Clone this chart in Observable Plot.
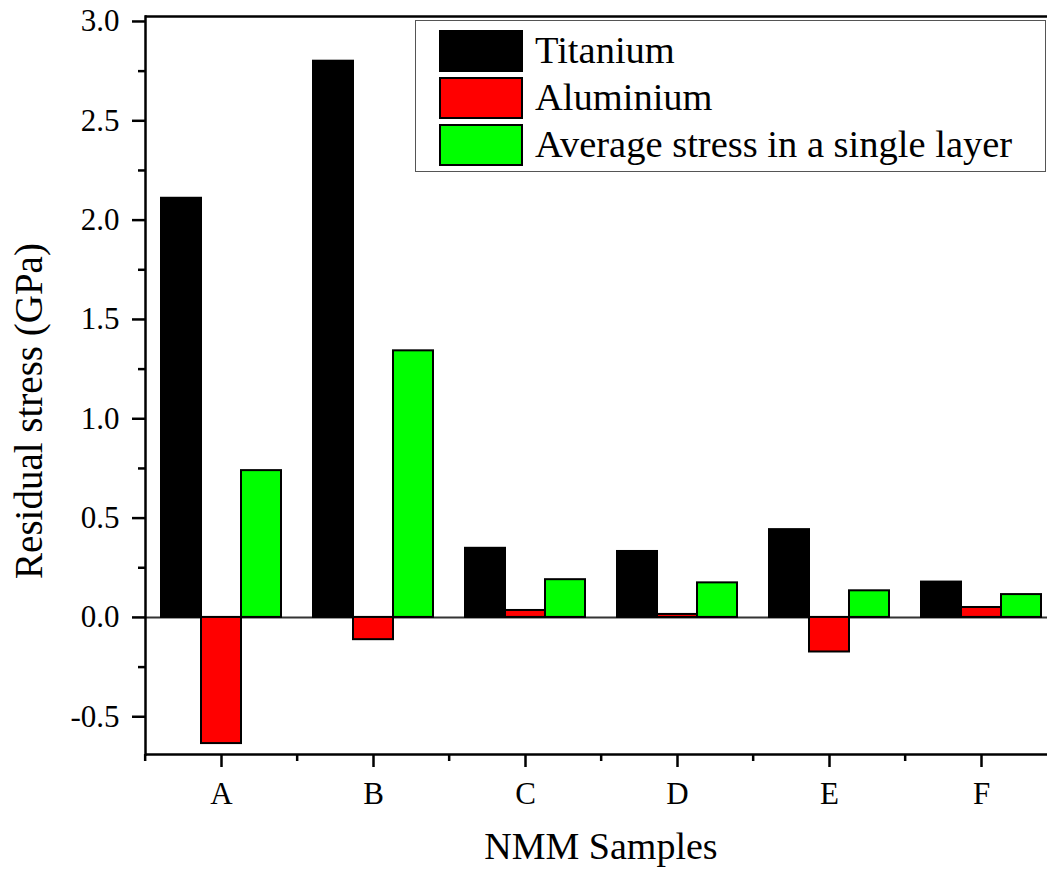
<!DOCTYPE html>
<html><head><meta charset="utf-8">
<script src="https://cdn.jsdelivr.net/npm/d3@7"></script>
<script src="https://cdn.jsdelivr.net/npm/@observablehq/plot@0.6"></script>
<style>
html,body{margin:0;padding:0;background:#fff;}
#wrap{position:relative;width:1047px;height:873px;overflow:hidden;font-family:"Liberation Serif","Tinos","Times New Roman","DejaVu Serif",serif;background:#fff;}
#wrap svg{overflow:hidden;display:block;}
.legend{position:absolute;left:415px;top:20px;width:631px;height:152px;box-sizing:border-box;border:1.5px solid #555;background:#fff;}
.row{position:absolute;left:23px;height:47px;display:flex;align-items:flex-start;}
.sw{width:84px;height:42px;box-sizing:border-box;border:2px solid #000;}
.lab{margin-left:12px;font-size:38.5px;line-height:40px;color:#000;white-space:nowrap;}
</style></head>
<body><div id="wrap"></div>
<script>
const samples = ["A", "B", "C", "D", "E", "F"];
const seriesNames = ["Titanium", "Aluminium", "Average stress in a single layer"];
const titanium = [2.11, 2.80, 0.348, 0.332, 0.442, 0.178];
const aluminium = [-0.635, -0.112, 0.035, 0.015, -0.174, 0.05];
const average = [0.739, 1.342, 0.19, 0.174, 0.134, 0.115];
const seriesColors = ["#000000", "#ff0000", "#00ff00"];
const yMajorTicks = [-0.5, 0, 0.5, 1.0, 1.5, 2.0, 2.5, 3.0];
const yMinorTicks = [-0.25, 0.25, 0.75, 1.25, 1.75, 2.25, 2.75];
const yDomain = [-0.69, 3.025];
const xTitle = "NMM Samples";
const yTitle = "Residual stress (GPa)";

const valuesBySeries = [titanium, aluminium, average];
const table = samples.flatMap((s, i) => seriesNames.map((n, j) => ({sample: s, series: n, value: valuesBySeries[j][i]})));

const W = 1047, H = 873, mL = 143, mR = -12, mT = 16, mB = 119;
const step = (W - mL - mR) / samples.length;
const font = "'Liberation Serif','Tinos','Times New Roman','DejaVu Serif',serif";

const chart = Plot.plot({
  width: W, height: H, marginLeft: mL, marginRight: mR, marginTop: mT, marginBottom: mB,
  style: {fontFamily: font, fontSize: "31px", color: "#000", background: "transparent", overflow: "hidden"},
  fx: {domain: samples, padding: 0, axis: null, label: null},
  x: {domain: seriesNames, paddingInner: 0, paddingOuter: 0.375, axis: null},
  y: {domain: yDomain, axis: null},
  color: {domain: seriesNames, range: seriesColors},
  marks: [
    Plot.ruleY([0], {stroke: "#333", strokeWidth: 2}),
    Plot.barY(table, {fx: "sample", x: "series", y1: 0, y2: "value", fill: "series", stroke: "#000", strokeWidth: 2}),
    Plot.ruleY([yDomain[1]], {stroke: "#000", strokeWidth: 2.5}),
    Plot.ruleY([yDomain[0]], {stroke: "#000", strokeWidth: 2.5}),
    Plot.frame({anchor: "left", facetAnchor: "left", stroke: "#000", strokeWidth: 2.5}),
    Plot.axisY({ticks: yMajorTicks, tickSize: 13, tickPadding: 13, tickFormat: d => d.toFixed(1), strokeWidth: 2.5, fontSize: 31, label: null}),
    Plot.axisY({ticks: yMinorTicks, tickSize: 7, tickFormat: () => "", strokeWidth: 2.5, label: null}),
    Plot.axisFx({anchor: "bottom", tickSize: 13, tickPadding: 14, strokeWidth: 2.5, fontSize: 31, label: null}),
    Plot.axisFx({anchor: "bottom", tickSize: 7, tickFormat: () => "", strokeWidth: 2.5, dx: -step / 2, label: null})
  ]
});

const wrap = document.getElementById("wrap");
wrap.appendChild(chart);

const svg = d3.select(chart);
svg.append("text")
  .attr("x", mL + (W - mL - mR) / 2).attr("y", 859)
  .attr("text-anchor", "middle")
  .style("font-family", font).style("font-size", "38px").attr("fill", "#000")
  .text(xTitle);
svg.append("text")
  .attr("transform", "translate(42,411) rotate(-90)")
  .attr("text-anchor", "middle")
  .style("font-family", font).style("font-size", "39px").attr("fill", "#000")
  .text(yTitle);

const legend = document.createElement("div");
legend.className = "legend";
seriesNames.forEach((name, i) => {
  const row = document.createElement("div");
  row.className = "row";
  row.style.top = (8.5 + i * 47) + "px";
  const sw = document.createElement("div");
  sw.className = "sw";
  sw.style.background = seriesColors[i];
  const lab = document.createElement("span");
  lab.className = "lab";
  lab.textContent = name;
  row.appendChild(sw);
  row.appendChild(lab);
  legend.appendChild(row);
});
wrap.appendChild(legend);
</script></body></html>
